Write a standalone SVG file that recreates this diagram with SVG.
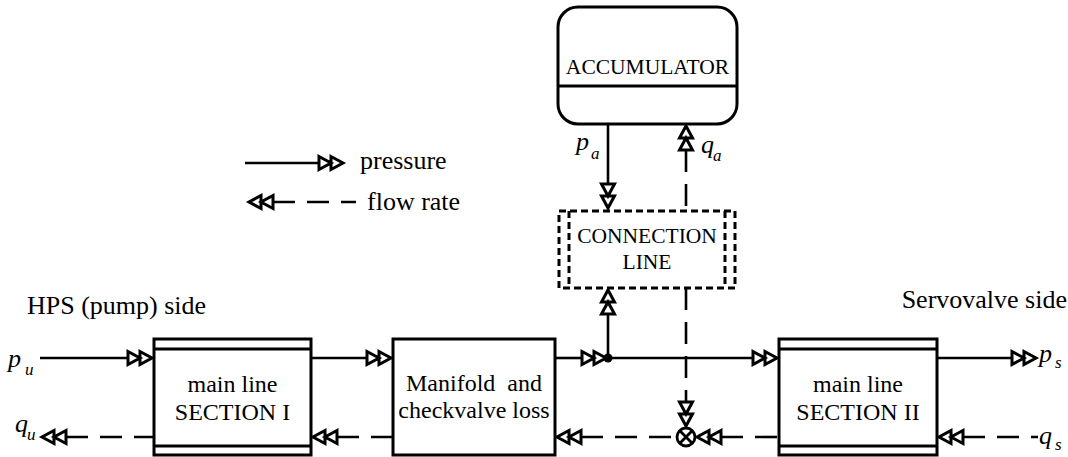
<svg xmlns="http://www.w3.org/2000/svg" width="1068" height="457" viewBox="0 0 1068 457">
<style>
text{font-family:"Liberation Serif","Times New Roman",serif;fill:#000}
.t{font-size:24px;text-anchor:middle}
.u{font-size:21.5px;text-anchor:middle}
.s{font-size:26px}
.i{font-style:italic;font-size:26px}
.sub{font-style:italic;font-size:17px}
.box{fill:#fff;stroke:#000;stroke-width:3}
.ln{fill:none;stroke:#000;stroke-width:2.8}
.p{fill:none;stroke:#000;stroke-width:2.6;marker-end:url(#dbl)}
.f{fill:none;stroke:#000;stroke-width:2.6;stroke-dasharray:22 12;marker-start:url(#dbl)}
.fe{fill:none;stroke:#000;stroke-width:2.6;stroke-dasharray:22 12;marker-end:url(#dbl)}
.dash{fill:none;stroke:#000;stroke-width:3;stroke-dasharray:7 4}
</style>
<defs>
<marker id="dbl" markerUnits="userSpaceOnUse" markerWidth="30" markerHeight="20" refX="0" refY="8" orient="auto-start-reverse" overflow="visible">
<path d="M0,1.5 L12,8 L0,14.5 Z M12,1.5 L24,8 L12,14.5 Z" fill="#fff" stroke="#000" stroke-width="3" stroke-linejoin="miter"/>
</marker>
</defs>

<g id="legend">
<path class="p" d="M245,163 H319"/>
<text class="s" x="360" y="169">pressure</text>
<path class="f" d="M273,202 H356"/>
<text class="s" x="367" y="210">flow rate</text>
</g>

<g id="labels">
<text class="s" x="27" y="314">HPS (pump) side</text>
<text class="s" x="1067" y="308" text-anchor="end">Servovalve side</text>
<text class="i" x="8" y="367">p</text><text class="sub" x="25" y="375">u</text>
<text class="i" x="15" y="432">q</text><text class="sub" x="27" y="440">u</text>
<text class="i" x="1039" y="362">p</text><text class="sub" x="1055" y="368">s</text>
<text class="i" x="1039" y="444">q</text><text class="sub" x="1055" y="450">s</text>
<text class="i" x="576" y="150">p</text><text class="sub" x="591" y="159">a</text>
<text class="i" x="701" y="153">q</text><text class="sub" x="713" y="161">a</text>
</g>

<g id="accumulator">
<rect class="box" x="558" y="7" width="179" height="117" rx="20" ry="20"/>
<line class="ln" x1="558" y1="86" x2="737" y2="86" stroke-width="3"/>
<text class="u" x="647.5" y="74">ACCUMULATOR</text>
</g>

<g id="connection-line">
<rect class="dash" x="559" y="211" width="176" height="77" fill="#fff"/>
<line class="dash" x1="569" y1="211" x2="569" y2="288"/>
<line class="dash" x1="725" y1="211" x2="725" y2="288"/>
<text class="u" x="647" y="243">CONNECTION</text>
<text class="u" x="647" y="269">LINE</text>
</g>

<g id="section1">
<rect class="box" x="154" y="339" width="157" height="116"/>
<line class="ln" x1="154" y1="349" x2="311" y2="349" stroke-width="3"/>
<line class="ln" x1="154" y1="446" x2="311" y2="446" stroke-width="3"/>
<text class="t" x="232.5" y="392">main line</text>
<text class="t" x="232.5" y="420">SECTION I</text>
</g>

<g id="manifold">
<rect class="box" x="393" y="339" width="162" height="116"/>
<text class="t" x="474" y="391" xml:space="preserve">Manifold  and</text>
<text class="t" x="474" y="418">checkvalve loss</text>
</g>

<g id="section2">
<rect class="box" x="779" y="339" width="158" height="116"/>
<line class="ln" x1="779" y1="349" x2="937" y2="349" stroke-width="3"/>
<line class="ln" x1="779" y1="446" x2="937" y2="446" stroke-width="3"/>
<text class="t" x="858" y="392">main line</text>
<text class="t" x="858" y="420">SECTION II</text>
</g>

<g id="sum-junction">
<circle cx="686" cy="437" r="9" fill="#fff" stroke="#000" stroke-width="2.8"/>
<path class="ln" d="M679.6,430.6 L692.4,443.4 M692.4,430.6 L679.6,443.4"/>
</g>

<g id="connectors">
<path class="p" d="M40,358 H128"/>
<path class="p" d="M311,358 H367"/>
<path class="p" d="M555,358 H582"/>
<path class="p" d="M608,358 H753"/>
<path class="p" d="M608,358 V314"/>
<path class="p" d="M937,358 H1012"/>
<path class="p" d="M608,124 V184"/>
<circle cx="608" cy="358" r="4.5" fill="#000"/>
<path class="f" d="M686,150 V211"/>
<path class="fe" d="M686,288 V402"/>
<path class="f" d="M66,437 H154"/>
<path class="f" d="M337,437 H393"/>
<path class="f" d="M581,437 H677"/>
<path class="f" d="M721,437 H779"/>
<path class="f" d="M963,437 H1038"/>
</g>
</svg>
